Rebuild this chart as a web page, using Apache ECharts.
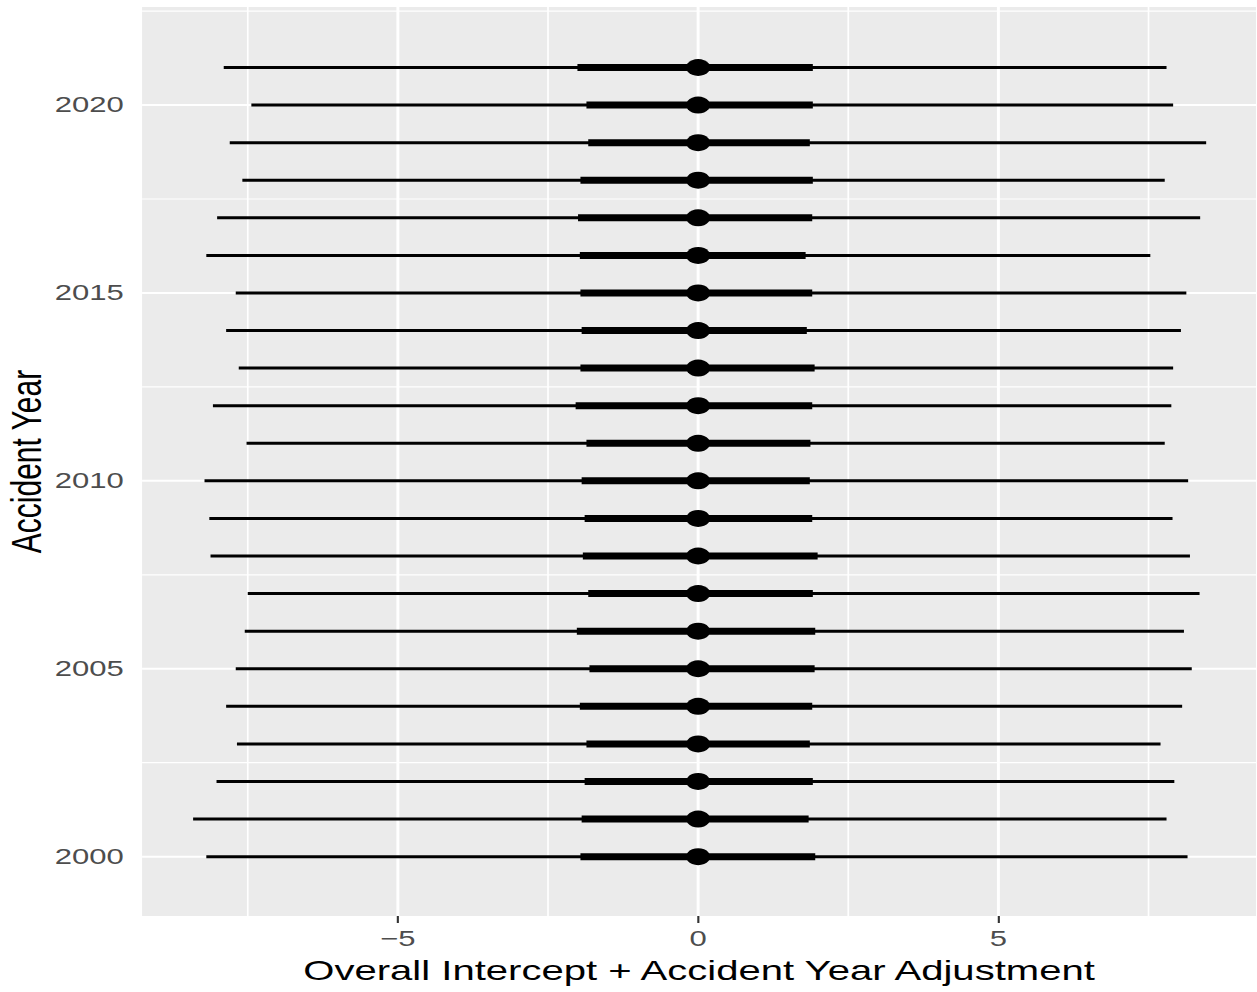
<!DOCTYPE html>
<html>
<head>
<meta charset="utf-8">
<script src="https://cdn.jsdelivr.net/npm/echarts@6/dist/echarts.min.js"></script>
<style>
  html, body { margin: 0; padding: 0; background: #ffffff; }
  #frame { width: 1257px; height: 992px; overflow: hidden; }
  /* plot is laid out at a narrower width, then widened to the page */
  #chart { width: 891px; height: 992px; transform: scaleX(1.41077); transform-origin: 0 0; }
</style>
</head>
<body>
<div id="frame"><div id="chart"></div></div>
<script>
// Accident years, bottom to top
const years = [2000, 2001, 2002, 2003, 2004, 2005, 2006, 2007, 2008, 2009, 2010,
               2011, 2012, 2013, 2014, 2015, 2016, 2017, 2018, 2019, 2020, 2021];
// outer interval (thin line)
const lower95 = [-8.19, -8.41, -8.02, -7.68, -7.86, -7.70, -7.55, -7.50, -8.12, -8.14, -8.22,
                 -7.52, -8.08, -7.65, -7.86, -7.70, -8.19, -8.01, -7.59, -7.80, -7.44, -7.90];
const upper95 = [8.15, 7.80, 7.93, 7.70, 8.06, 8.22, 8.09, 8.35, 8.19, 7.90, 8.16,
                 7.77, 7.88, 7.91, 8.04, 8.13, 7.53, 8.36, 7.77, 8.46, 7.91, 7.80];
// inner interval (thick line)
const lower50 = [-1.96, -1.94, -1.89, -1.86, -1.97, -1.81, -2.02, -1.83, -1.92, -1.89, -1.94,
                 -1.86, -2.04, -1.96, -1.94, -1.96, -1.97, -2.00, -1.96, -1.83, -1.86, -2.01];
const upper50 = [1.95, 1.84, 1.91, 1.86, 1.90, 1.94, 1.95, 1.91, 1.99, 1.90, 1.86,
                 1.87, 1.90, 1.94, 1.81, 1.90, 1.79, 1.90, 1.91, 1.86, 1.91, 1.91];
// point estimate
const median = [0, 0, 0, 0, 0, 0, 0, 0, 0, 0, 0,
                0, 0, 0, 0, 0, 0, 0, 0, 0, 0, 0];

// axis ticks and grid lines
const xTicks = [-5, 0, 5];
const xMinor = [-7.5, -2.5, 2.5, 7.5];
const yTicks = [2000, 2005, 2010, 2015, 2020];
const yMinor = [2002.5, 2007.5, 2012.5, 2017.5, 2022.5];

const X_MIN = -9.26, X_MAX = 9.29;
const Y_MIN = 1998.42, Y_MAX = 2022.61;

const intervals = years.map((y, i) => [y, lower95[i], lower50[i], median[i], upper50[i], upper95[i]]);
const gridV = xTicks.map(v => [v, 1]).concat(xMinor.map(v => [v, 0]));
const gridH = yTicks.map(v => [v, 1]).concat(yMinor.map(v => [v, 0]));

const FONT = '"Liberation Sans", Arial, Helvetica, sans-serif';

const chart = echarts.init(document.getElementById('chart'), null, { renderer: 'svg' });

chart.setOption({
  animation: false,
  backgroundColor: '#ffffff',
  textStyle: { fontFamily: FONT },
  grid: {
    left: 100.7, right: 0.7, top: 7, bottom: 76,
    containLabel: false, outerBoundsMode: 'none',
    show: true, backgroundColor: '#ebebeb', borderWidth: 0
  },
  xAxis: {
    type: 'value', min: X_MIN, max: X_MAX,
    axisLine: { show: false },
    splitLine: { show: false },
    axisTick: { show: true, customValues: xTicks, length: 7, lineStyle: { color: '#333333', width: 1.5 } },
    axisLabel: {
      customValues: xTicks, margin: 12, color: '#4d4d4d', fontSize: 22, fontFamily: FONT,
      formatter: v => (v < 0 ? '\u2212' + Math.abs(v) : String(v))
    },
    name: 'Overall Intercept + Accident Year Adjustment',
    nameLocation: 'middle', nameGap: 40, nameMoveOverlap: false,
    nameTextStyle: { color: '#000000', fontSize: 28.4, fontFamily: FONT }
  },
  yAxis: {
    type: 'value', min: Y_MIN, max: Y_MAX,
    axisLine: { show: false },
    splitLine: { show: false },
    axisTick: { show: true, customValues: yTicks, length: 7, lineStyle: { color: '#333333', width: 2 } },
    axisLabel: {
      customValues: yTicks, margin: 13, color: '#4d4d4d', fontSize: 22, fontFamily: FONT,
      formatter: v => String(v)
    },
    name: 'Accident Year',
    nameLocation: 'middle', nameGap: 67, nameMoveOverlap: false,
    nameTextStyle: { color: '#000000', fontSize: 30, fontFamily: FONT }
  },
  series: [
    {
      // vertical grid lines
      type: 'custom', silent: true, z: 1,
      data: gridV,
      encode: { x: 0 },
      renderItem: (params, api) => {
        const cs = params.coordSys;
        const px = api.coord([api.value(0), Y_MIN])[0];
        return {
          type: 'line',
          shape: { x1: px, y1: cs.y, x2: px, y2: cs.y + cs.height },
          style: { stroke: '#ffffff', lineWidth: api.value(1) ? 2.1 : 1.2 }
        };
      }
    },
    {
      // horizontal grid lines
      type: 'custom', silent: true, z: 1,
      data: gridH,
      encode: { y: 0 },
      renderItem: (params, api) => {
        const cs = params.coordSys;
        const py = api.coord([X_MIN, api.value(0)])[1];
        return {
          type: 'line',
          shape: { x1: cs.x, y1: py, x2: cs.x + cs.width, y2: py },
          style: { stroke: '#ffffff', lineWidth: api.value(1) ? 2 : 1.2 }
        };
      }
    },
    {
      // interval bars with point estimate
      type: 'custom', z: 5,
      data: intervals,
      encode: { y: 0, x: [1, 2, 3, 4, 5] },
      renderItem: (params, api) => {
        const y = api.value(0);
        const a = api.coord([api.value(1), y]);
        const b = api.coord([api.value(2), y]);
        const m = api.coord([api.value(3), y]);
        const c = api.coord([api.value(4), y]);
        const d = api.coord([api.value(5), y]);
        return {
          type: 'group',
          children: [
            { type: 'line', shape: { x1: a[0], y1: a[1], x2: d[0], y2: d[1] },
              style: { stroke: '#000000', lineWidth: 3, lineCap: 'butt' } },
            { type: 'line', shape: { x1: b[0], y1: b[1], x2: c[0], y2: c[1] },
              style: { stroke: '#000000', lineWidth: 7, lineCap: 'butt' } },
            { type: 'circle', shape: { cx: m[0], cy: m[1], r: 8.5 },
              style: { fill: '#000000' } }
          ]
        };
      }
    }
  ]
});
</script>
</body>
</html>
